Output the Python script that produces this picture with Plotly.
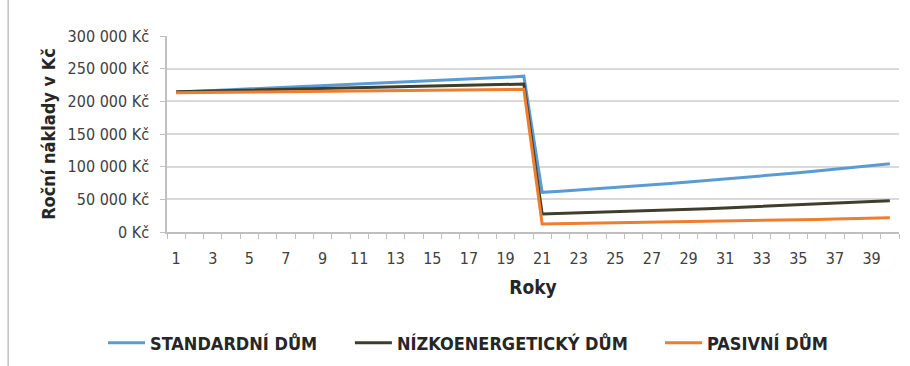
import plotly.graph_objects as go

years = list(range(1, 41))

standardni = [214000, 215200, 216400, 217600, 218800, 220000, 221200, 222400, 223600, 224900,
              226200, 227500, 228800, 230100, 231400, 232700, 234000, 235400, 236800, 238500,
              60700, 62500, 64300, 66200, 68100, 70100, 72100, 74200, 76400, 78600,
              80900, 83200, 85600, 88100, 90700, 93300, 96000, 98800, 101700, 104600]

nizkoenergeticky = [214500, 215100, 215700, 216300, 216900, 217500, 218100, 218700, 219300, 219900,
                    220500, 221100, 221700, 222300, 222900, 223500, 224200, 224900, 225600, 226500,
                    27500, 28300, 29100, 30000, 30900, 31800, 32700, 33700, 34700, 35700,
                    36800, 37900, 39000, 40200, 41400, 42600, 43900, 45200, 46500, 48000]

pasivni = [213000, 213300, 213600, 213900, 214200, 214500, 214800, 215100, 215400, 215700,
           216000, 216300, 216600, 216900, 217200, 217500, 217700, 217900, 218100, 218400,
           12200, 12600, 13000, 13400, 13800, 14200, 14600, 15100, 15600, 16100,
           16600, 17100, 17600, 18100, 18600, 19200, 19800, 20500, 21200, 21900]

series_names = ["STANDARDNÍ DŮM", "NÍZKOENERGETICKÝ DŮM", "PASIVNÍ DŮM"]
series_colors = ["#5B9BD5", "#3E3E2C", "#ED7D31"]
legend_ids = ["legend", "legend2", "legend3"]
legend_x = [0.1132, 0.3845, 0.7253]

y_ticks = [0, 50000, 100000, 150000, 200000, 250000, 300000]
y_labels = ["0 Kč", "50 000 Kč", "100 000 Kč", "150 000 Kč", "200 000 Kč", "250 000 Kč", "300 000 Kč"]
x_ticks = list(range(1, 41, 2))

font_family = "'DejaVu Sans Condensed', Lato, sans-serif"

fig = go.Figure()
for name, values, color, lg in zip(series_names, [standardni, nizkoenergeticky, pasivni],
                                   series_colors, legend_ids):
    fig.add_trace(go.Scatter(x=years, y=values, mode="lines", name=f"<b>{name}</b>",
                             line=dict(color=color, width=3), legend=lg))

legend_style = dict(orientation="h", xref="container", yref="container",
                    xanchor="left", yanchor="middle", y=23 / 366, itemwidth=37,
                    font=dict(size=18, color="#262626", family=font_family),
                    bgcolor="rgba(0,0,0,0)")

fig.update_layout(
    width=910, height=366,
    margin=dict(l=167, r=11, t=36, b=134),
    paper_bgcolor="white", plot_bgcolor="white",
    font=dict(family=font_family, size=16, color="#404040"),
    showlegend=True,
    xaxis=dict(range=[0.5, 40.5], tickmode="array", tickvals=x_ticks,
               ticktext=[str(v) for v in x_ticks], ticks="", showgrid=False,
               showline=True, linecolor="#BFBFBF", linewidth=1.5,
               tickfont=dict(size=16, color="#404040"), ticklabelstandoff=11,
               minor=dict(tickmode="linear", tick0=0.5, dtick=1, ticks="outside",
                          ticklen=5, tickcolor="#BFBFBF", tickwidth=1, showgrid=False),
               title=dict(text="<b>Roky</b>", font=dict(size=19, color="#262626"), standoff=14),
               zeroline=False),
    yaxis=dict(range=[0, 300000], tickmode="array", tickvals=y_ticks, ticktext=y_labels,
               showgrid=True, gridcolor="#D9D9D9", gridwidth=1.5,
               showline=True, linecolor="#BFBFBF", linewidth=1.5,
               ticks="outside", ticklen=5, tickcolor="#BFBFBF",
               tickfont=dict(size=16, color="#404040"), ticklabelstandoff=8,
               title=dict(text="<b>Roční náklady v Kč</b>", font=dict(size=18, color="#262626"),
                          standoff=7),
               zeroline=False),
)
for lg, lx in zip(legend_ids, legend_x):
    fig.update_layout({lg: dict(legend_style, x=lx)})

# thin frame line at the left edge of the figure
fig.add_shape(type="line", xref="paper", yref="paper",
              x0=-0.217, x1=-0.217, y0=-0.69, y1=1.19,
              line=dict(color="#BFBFBF", width=1.5))

fig.write_html("out.html")
